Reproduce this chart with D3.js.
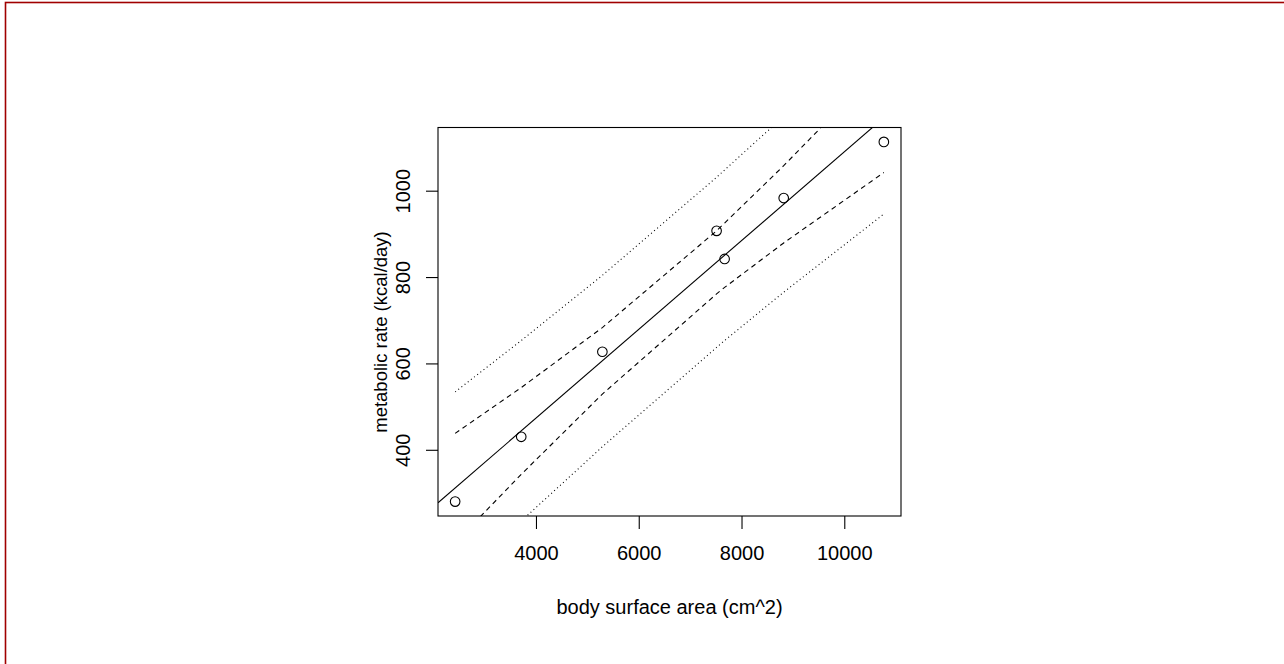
<!DOCTYPE html>
<html>
<head>
<meta charset="utf-8">
<script src="https://cdn.jsdelivr.net/npm/d3@7"></script>
<style>
    html, body { margin: 0; padding: 0; background: #fff; }
    svg { display: block; font-family: "Liberation Sans", Arial, sans-serif; }
</style>
</head>
<body>
<div id="chart"></div>
<script>
// 体表面积 vs 代谢率，回归线 + 99% 置信带（虚线）+ 99% 预测带（点线）
const area = [2427, 3713, 5292, 7515, 7671, 8821, 10770];
const rate = [280, 430, 627, 907, 842, 983, 1113];

// 带的数值（在各观测点处读取）
const ciUpper = [438, 544, 683, 907, 925, 1058, 1295];
const ciLower = [185, 343, 529, 761, 776, 879, 1042];
const piUpper = [534, 653, 804, 1031, 1048, 1172, 1391];
const piLower = [89, 235, 407, 637, 653, 765, 946];

// abline(lm) 读取的截距和斜率
const fitIntercept = 62;
const fitSlope = 0.1028;

const xTicks = [4000, 6000, 8000, 10000];
const yTicks = [400, 600, 800, 1000];

const width = 1284, height = 664;
const box = { left: 438, top: 127.5, right: 901, bottom: 516 };
const fontSize = '20px';

const svg = d3.select('#chart')
    .append('svg')
    .attr('width', width)
    .attr('height', height);

// 外框（只有上边和左边可见）
svg.append('rect')
    .attr('x', 5.5).attr('y', 2.5)
    .attr('width', width + 20).attr('height', height + 20)
    .attr('fill', 'none')
    .attr('stroke', '#a00000')
    .attr('stroke-width', 1.6);

// R 默认范围：数据范围两端各扩 4%
const pad = (arr) => {
    const [lo, hi] = d3.extent(arr);
    const r = hi - lo;
    return [lo - 0.04 * r, hi + 0.04 * r];
};

const x = d3.scaleLinear().domain(pad(area)).range([box.left, box.right]);
const y = d3.scaleLinear().domain(pad(rate)).range([box.bottom, box.top]);

svg.append('clipPath').attr('id', 'plot-clip')
    .append('rect')
    .attr('x', box.left).attr('y', box.top)
    .attr('width', box.right - box.left)
    .attr('height', box.bottom - box.top);

const plot = svg.append('g').attr('clip-path', 'url(#plot-clip)');

// 回归线
const [x0, x1] = x.domain();
plot.append('line')
    .attr('x1', x(x0)).attr('y1', y(fitIntercept + fitSlope * x0))
    .attr('x2', x(x1)).attr('y2', y(fitIntercept + fitSlope * x1))
    .attr('stroke', '#000')
    .attr('stroke-width', 1.1);

const bandLine = d3.line()
    .x(d => x(d[0]))
    .y(d => y(d[1]));

const bands = [
    { vals: ciUpper, dash: '5,4' },
    { vals: ciLower, dash: '5,4' },
    { vals: piUpper, dash: '1,3' },
    { vals: piLower, dash: '1,3' }
];

bands.forEach(b => {
    plot.append('path')
        .attr('d', bandLine(area.map((a, i) => [a, b.vals[i]])))
        .attr('fill', 'none')
        .attr('stroke', '#000')
        .attr('stroke-width', 1.1)
        .attr('stroke-dasharray', b.dash);
});

// 数据点
svg.selectAll('.pt')
    .data(area)
    .enter()
    .append('circle')
    .attr('class', 'pt')
    .attr('cx', d => x(d))
    .attr('cy', (d, i) => y(rate[i]))
    .attr('r', 4.8)
    .attr('fill', 'none')
    .attr('stroke', '#000')
    .attr('stroke-width', 1.1);

// 绘图框
svg.append('rect')
    .attr('x', box.left).attr('y', box.top)
    .attr('width', box.right - box.left)
    .attr('height', box.bottom - box.top)
    .attr('fill', 'none')
    .attr('stroke', '#000')
    .attr('stroke-width', 1.1);

// 坐标轴
const xAxis = svg.append('g')
    .attr('transform', `translate(0,${box.bottom})`)
    .call(d3.axisBottom(x).tickValues(xTicks).tickSize(13).tickPadding(17).tickFormat(d3.format('d')));

const yAxis = svg.append('g')
    .attr('transform', `translate(${box.left},0)`)
    .call(d3.axisLeft(y).tickValues(yTicks).tickSize(12).tickPadding(0).tickFormat(d3.format('d')));

[xAxis, yAxis].forEach(a => {
    a.select('.domain').remove();
    a.selectAll('line').attr('stroke', '#000').attr('stroke-width', 1.1);
    a.selectAll('text')
        .attr('fill', '#000')
        .style('font-size', fontSize)
        .style('font-family', '"Liberation Sans", Arial, sans-serif');
});

// y 轴刻度文字竖排
yAxis.selectAll('.tick text')
    .attr('x', null)
    .attr('text-anchor', 'middle')
    .attr('transform', 'translate(-35,0) rotate(-90)')
    .attr('dy', '0.35em');

// 轴标题
svg.append('text')
    .attr('x', (box.left + box.right) / 2)
    .attr('y', 614)
    .attr('text-anchor', 'middle')
    .style('font-size', fontSize)
    .text('body surface area (cm^2)');

svg.append('text')
    .attr('transform', `translate(381,332) rotate(-90)`)
    .attr('text-anchor', 'middle')
    .attr('dy', '0.35em')
    .style('font-size', '18.5px')
    .text('metabolic rate (kcal/day)');
</script>
</body>
</html>
